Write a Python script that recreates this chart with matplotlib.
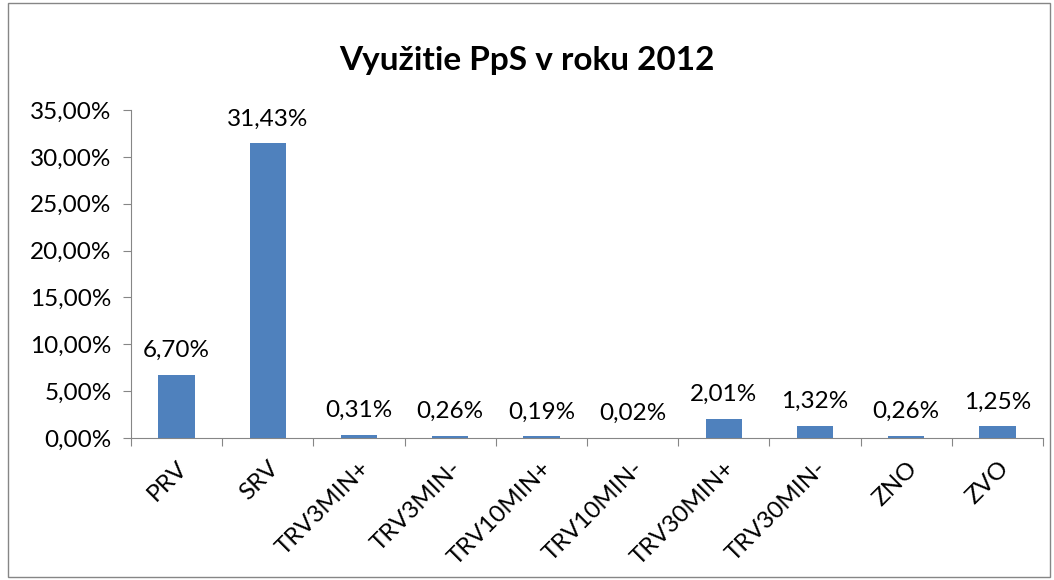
import matplotlib.pyplot as plt
import numpy as np
from matplotlib.patches import Rectangle

plt.rcParams.update({"font.family": ["Lato", "DejaVu Sans"], "figure.dpi": 100})

categories = ["PRV", "SRV", "TRV3MIN+", "TRV3MIN-", "TRV10MIN+", "TRV10MIN-",
              "TRV30MIN+", "TRV30MIN-", "ZNO", "ZVO"]
values = [6.70, 31.43, 0.31, 0.26, 0.19, 0.02, 2.01, 1.32, 0.26, 1.25]
yticks = [0, 5, 10, 15, 20, 25, 30, 35]

fig = plt.figure(figsize=(10.54, 5.8))
ax = fig.add_axes([0.1243, 0.2448, 0.8653, 0.5655])

# chart border
fig.patches.append(Rectangle((0.008, 0.005), 0.988, 0.99, transform=fig.transFigure,
                             fill=False, edgecolor="#868686", linewidth=1))

x = np.arange(len(categories))
bars = ax.bar(x, values, width=0.4, color="#4F81BD", zorder=3)

for b, v in zip(bars, values):
    ax.annotate(f"{v:.2f}%".replace(".", ","),
                xy=(b.get_x() + b.get_width() / 2, v),
                xytext=(0, 10), textcoords="offset points",
                ha="center", va="bottom", fontsize=17.5)

ax.set_xlim(-0.5, len(categories) - 0.5)
ax.set_ylim(0, 35)
ax.set_yticks(yticks)
ax.set_yticklabels([f"{t:.2f}%".replace(".", ",") for t in yticks], fontsize=17.5)

# x ticks at category boundaries, labels at centers
ax.set_xticks(np.arange(-0.5, len(categories)), minor=False)
ax.set_xticklabels([])
ax.set_xticks(x, minor=True)
ax.set_xticklabels(categories, minor=True, rotation=45, ha="right",
                   rotation_mode="anchor", fontsize=17.5)
ax.tick_params(axis="x", which="minor", length=0, pad=14)
ax.tick_params(axis="x", which="major", length=6, color="#868686")
ax.tick_params(axis="y", length=6, color="#868686", pad=8)

for s in ["top", "right"]:
    ax.spines[s].set_visible(False)
for s in ["left", "bottom"]:
    ax.spines[s].set_color("#868686")

fig.suptitle("Využitie PpS v roku 2012", fontsize=24, fontweight="bold", y=0.92)

fig.savefig("out.png", dpi=100)
